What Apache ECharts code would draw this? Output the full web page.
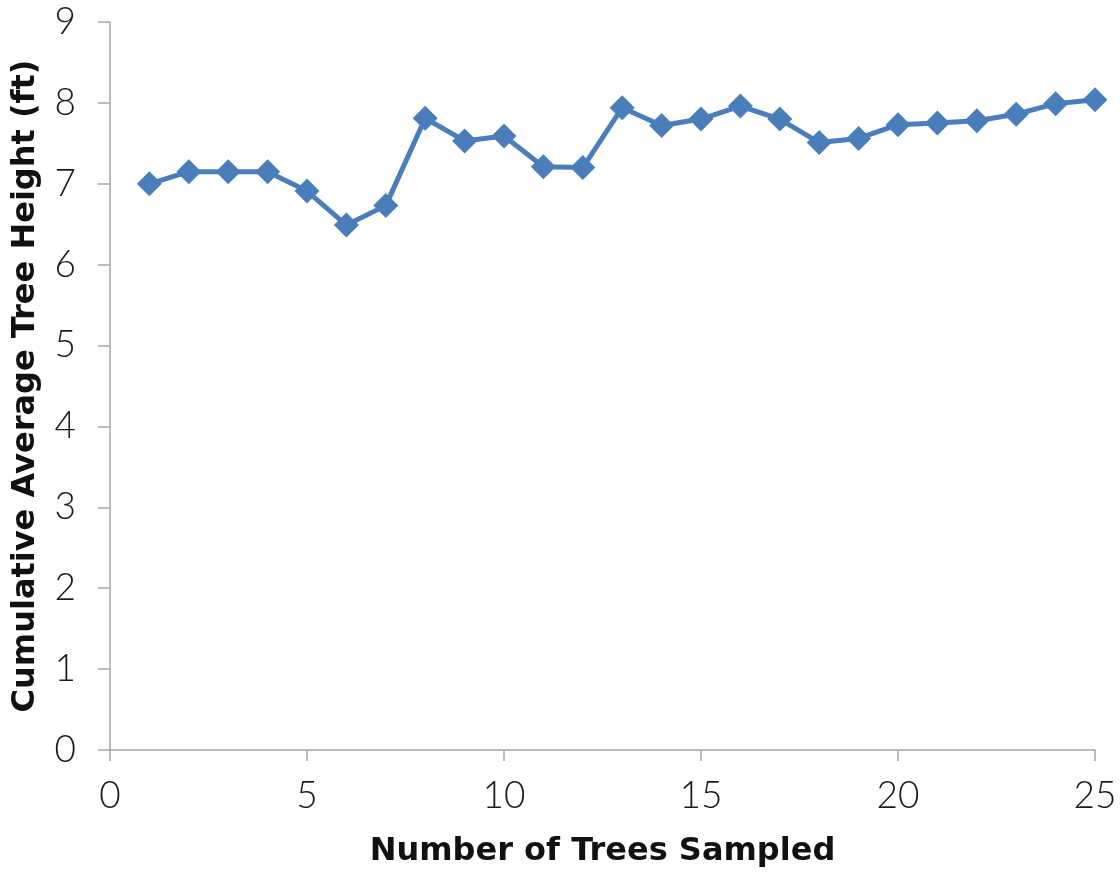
<!DOCTYPE html>
<html>
<head>
<meta charset="utf-8">
<style>
  html, body { margin: 0; padding: 0; background: #ffffff; }
  #chart { width: 1120px; height: 873px; }
</style>
<script src="https://cdn.jsdelivr.net/npm/echarts@6/dist/echarts.min.js"></script>
</head>
<body>
<div id="chart"></div>
<script>
// Number of trees sampled (x) and the running average height in feet (y)
const treesSampled = [1, 2, 3, 4, 5, 6, 7, 8, 9, 10, 11, 12, 13, 14, 15, 16, 17, 18, 19, 20, 21, 22, 23, 24, 25];
const avgHeight = [7.0, 7.15, 7.15, 7.15, 6.91, 6.49, 6.73, 7.81, 7.53, 7.59, 7.21, 7.2, 7.94, 7.72, 7.8, 7.96, 7.8, 7.51, 7.56, 7.73, 7.75, 7.78, 7.86, 7.99, 8.04];

const xTitle = 'Number of Trees Sampled';
const yTitle = 'Cumulative Average Tree Height (ft)';

const points = treesSampled.map((x, i) => [x, avgHeight[i]]);

const axisGray = '#a6a6a6';
const labelFont = { fontFamily: 'Lato', fontWeight: 300, fontSize: 37, color: '#1a1a1a' };
const titleFont = { fontFamily: 'DejaVu Sans', fontWeight: 'bold', fontSize: 32, color: '#111111' };

const chart = echarts.init(document.getElementById('chart'), null, { renderer: 'canvas' });
chart.setOption({
  animation: false,
  backgroundColor: '#ffffff',
  grid: { left: 110, right: 25, top: 22, bottom: 123, containLabel: false, outerBoundsMode: 'none' },
  xAxis: {
    type: 'value',
    min: 0, max: 25, interval: 5,
    name: xTitle,
    nameLocation: 'middle',
    nameGap: 86,
    nameTextStyle: titleFont,
    axisLine: { show: true, lineStyle: { color: axisGray, width: 1.5 } },
    axisTick: { show: true, inside: false, length: 11, lineStyle: { color: axisGray, width: 1.5 } },
    axisLabel: Object.assign({ margin: 28 }, labelFont),
    splitLine: { show: false }
  },
  yAxis: {
    type: 'value',
    min: 0, max: 9, interval: 1,
    name: yTitle,
    nameLocation: 'middle',
    nameGap: 68,
    nameRotate: 90,
    nameTextStyle: titleFont,
    axisLine: { show: true, lineStyle: { color: axisGray, width: 1.5 } },
    axisTick: { show: true, inside: false, length: 12, lineStyle: { color: axisGray, width: 1.5 } },
    axisLabel: Object.assign({ margin: 34 }, labelFont),
    splitLine: { show: false }
  },
  series: [{
    type: 'line',
    data: points,
    symbol: 'diamond',
    symbolSize: 25,
    lineStyle: { color: '#4a7ebb', width: 5 },
    itemStyle: { color: '#4a7ebb' },
    z: 3
  }]
});
</script>
</body>
</html>
